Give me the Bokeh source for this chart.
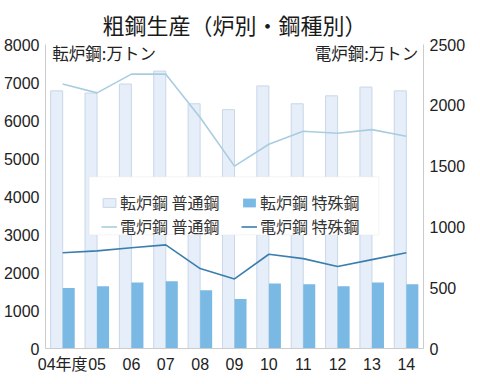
from bokeh.plotting import figure
from bokeh.models import (ColumnDataSource, FactorRange, Range1d, LinearAxis,
                          Legend, LegendItem, Label, BoxAnnotation)
from bokeh.transform import dodge
from bokeh.embed import file_html
from bokeh.resources import INLINE

years = ["04年度", "05", "06", "07", "08", "09", "10", "11", "12", "13", "14"]
tenro_futsu = [6780, 6720, 6960, 7300, 6440, 6285, 6910, 6440, 6650, 6880, 6780]
tenro_tokushu = [1590, 1640, 1740, 1770, 1530, 1300, 1710, 1690, 1640, 1740, 1690]
denro_futsu = [2175, 2102, 2256, 2256, 1900, 1500, 1680, 1786, 1770, 1800, 1745]
denro_tokushu = [787, 803, 828, 852, 657, 572, 775, 739, 674, 731, 787]

NUM_FONT = "Liberation Sans, Noto Sans CJK JP"
JP_FONT = "Noto Sans CJK JP"

src = ColumnDataSource(dict(year=years, tf=tenro_futsu, tt=tenro_tokushu,
                            df=denro_futsu, dt=denro_tokushu))

p = figure(x_range=FactorRange(*years, range_padding=0), y_range=Range1d(0, 8000),
           frame_width=378, frame_height=304, output_backend="svg", toolbar_location=None,
           min_border_left=44, min_border_right=40, min_border_top=37,
           min_border_bottom=26)
p.extra_y_ranges = {"eaf": Range1d(0, 2500)}

p.title.text = "粗鋼生産（炉別・鋼種別）"
p.title.text_font = JP_FONT
p.title.text_font_size = "22px"
p.title.text_font_style = "normal"
p.title.text_color = "#1a1a1a"
p.title.align = "center"

p.outline_line_color = None
p.xgrid.grid_line_color = None
p.ygrid.grid_line_color = None

b1 = p.vbar(x=dodge("year", -0.175, range=p.x_range), top="tf", width=0.35, source=src,
            fill_color="#e5eef9", line_color="#c9d7e7", line_width=1)
b2 = p.vbar(x=dodge("year", 0.175, range=p.x_range), top="tt", width=0.35, source=src,
            fill_color="#7bb9e5", line_color=None)
l1 = p.line(x="year", y="df", source=src, y_range_name="eaf",
            line_color="#a9cde0", line_width=1.6)
l2 = p.line(x="year", y="dt", source=src, y_range_name="eaf",
            line_color="#3b7eae", line_width=1.6)

right = LinearAxis(y_range_name="eaf")
p.add_layout(right, "right")

for ax in [p.yaxis[0], right, p.xaxis[0]]:
    ax.axis_line_color = "#cccccc"
    ax.major_tick_line_color = None
    ax.minor_tick_line_color = None
    ax.major_tick_out = 0
    ax.major_tick_in = 0
    ax.minor_tick_out = 0
    ax.minor_tick_in = 0
    ax.major_label_text_font = NUM_FONT
    ax.major_label_text_font_size = "16px"
    ax.major_label_text_color = "#222222"
    ax.major_label_standoff = 6
right.major_label_standoff = 6
p.xaxis[0].major_label_standoff = 7
p.yaxis[0].ticker.desired_num_ticks = 9
right.ticker.desired_num_ticks = 6
p.yaxis[0].formatter.use_scientific = False

p.add_layout(Label(x=0.2, y=7780, text="転炉鋼:万トン", text_font=JP_FONT,
                   text_font_size="16.5px", text_baseline="middle", text_color="#222222"))
p.add_layout(Label(x=10.85, y=7780, text="電炉鋼:万トン", text_font=JP_FONT,
                   text_font_size="16.5px", text_baseline="middle", text_align="right",
                   text_color="#222222"))

# legend frame
p.add_layout(BoxAnnotation(left=1.27, right=9.70, bottom=2990, top=4520,
                           fill_color="white", fill_alpha=1.0,
                           line_color="#dcdcdc", line_width=1, level="annotation"))

def make_legend(item, x, y):
    lg = Legend(items=[item], location=(x, y), orientation="vertical")
    lg.label_text_font = JP_FONT
    lg.label_text_font_size = "16px"
    lg.label_text_color = "#333333"
    lg.border_line_color = None
    lg.background_fill_alpha = 0.0
    lg.glyph_width = 16
    lg.glyph_height = 11
    lg.spacing = 0
    lg.padding = 0
    lg.margin = 0
    lg.label_standoff = 3
    lg.label_height = 18
    return lg

p.add_layout(make_legend(LegendItem(label="転炉鋼 普通鋼", renderers=[b1]), 56, 134))
p.add_layout(make_legend(LegendItem(label="電炉鋼 普通鋼", renderers=[l1]), 56, 110))
p.add_layout(make_legend(LegendItem(label="転炉鋼 特殊鋼", renderers=[b2]), 196, 134))
p.add_layout(make_legend(LegendItem(label="電炉鋼 特殊鋼", renderers=[l2]), 196, 110))

open("out.html", "w").write(file_html(p, INLINE))
